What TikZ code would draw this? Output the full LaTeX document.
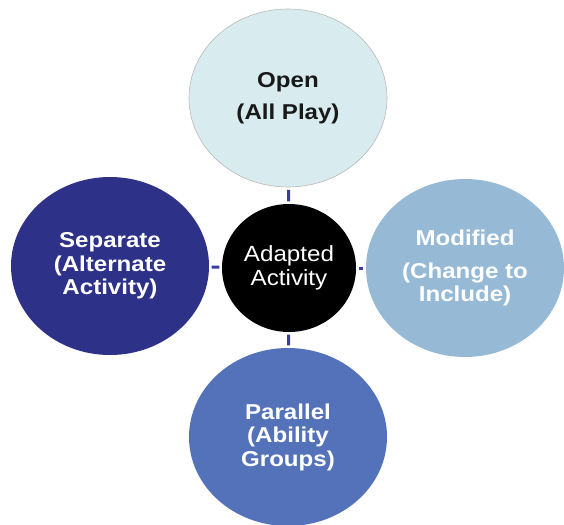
\documentclass[tikz,border=0pt]{standalone}
\usepackage{fontspec}
\setmainfont{Liberation Sans}
\newfontfamily\boldwide[FakeStretch=1.12]{Liberation Sans Bold}
\newfontfamily\regwide[FakeStretch=1.1]{Liberation Sans}
\usetikzlibrary{shapes.geometric}
\definecolor{topfill}{HTML}{D8ECF0}
\definecolor{leftfill}{HTML}{2E3188}
\definecolor{rightfill}{HTML}{96BAD6}
\definecolor{botfill}{HTML}{5372B9}
\definecolor{linkcol}{HTML}{383C9C}
\tikzset{
  bigell/.style={ellipse, minimum width=198pt, minimum height=178pt, inner sep=0pt, align=center,
    font=\boldwide\fontsize{21.5}{23.5}\selectfont},
  hub/.style={ellipse, fill=black, minimum width=134pt, minimum height=128pt, inner sep=0pt,
    align=center, text=white, font=\regwide\fontsize{22}{24}\selectfont},
  link/.style={draw=linkcol, line width=3pt, shorten >=2.5pt, shorten <=2.5pt}
}
\begin{document}
\begin{tikzpicture}[x=1pt,y=-1pt]
\useasboundingbox (0,0) rectangle (564,524);
\node[hub] (c) at (289,268) {Adapted\\Activity};
\node[bigell, fill=topfill, draw=gray!55, line width=0.6pt, text=black!90] (t) at (288,98) {Open\\[8pt](All Play)};
\node[bigell, fill=leftfill, text=white] (l) at (110,266) {Separate\\(Alternate\\Activity)};
\node[bigell, fill=rightfill, text=white] (r) at (465,268) {Modified\\[9pt](Change to\\Include)};
\node[bigell, fill=botfill, text=white] (b) at (288,437) {Parallel\\(Ability\\Groups)};
\draw[link] (t) -- (c);
\draw[link] (l) -- (c);
\draw[link] (r) -- (c);
\draw[link] (b) -- (c);
\end{tikzpicture}
\end{document}
